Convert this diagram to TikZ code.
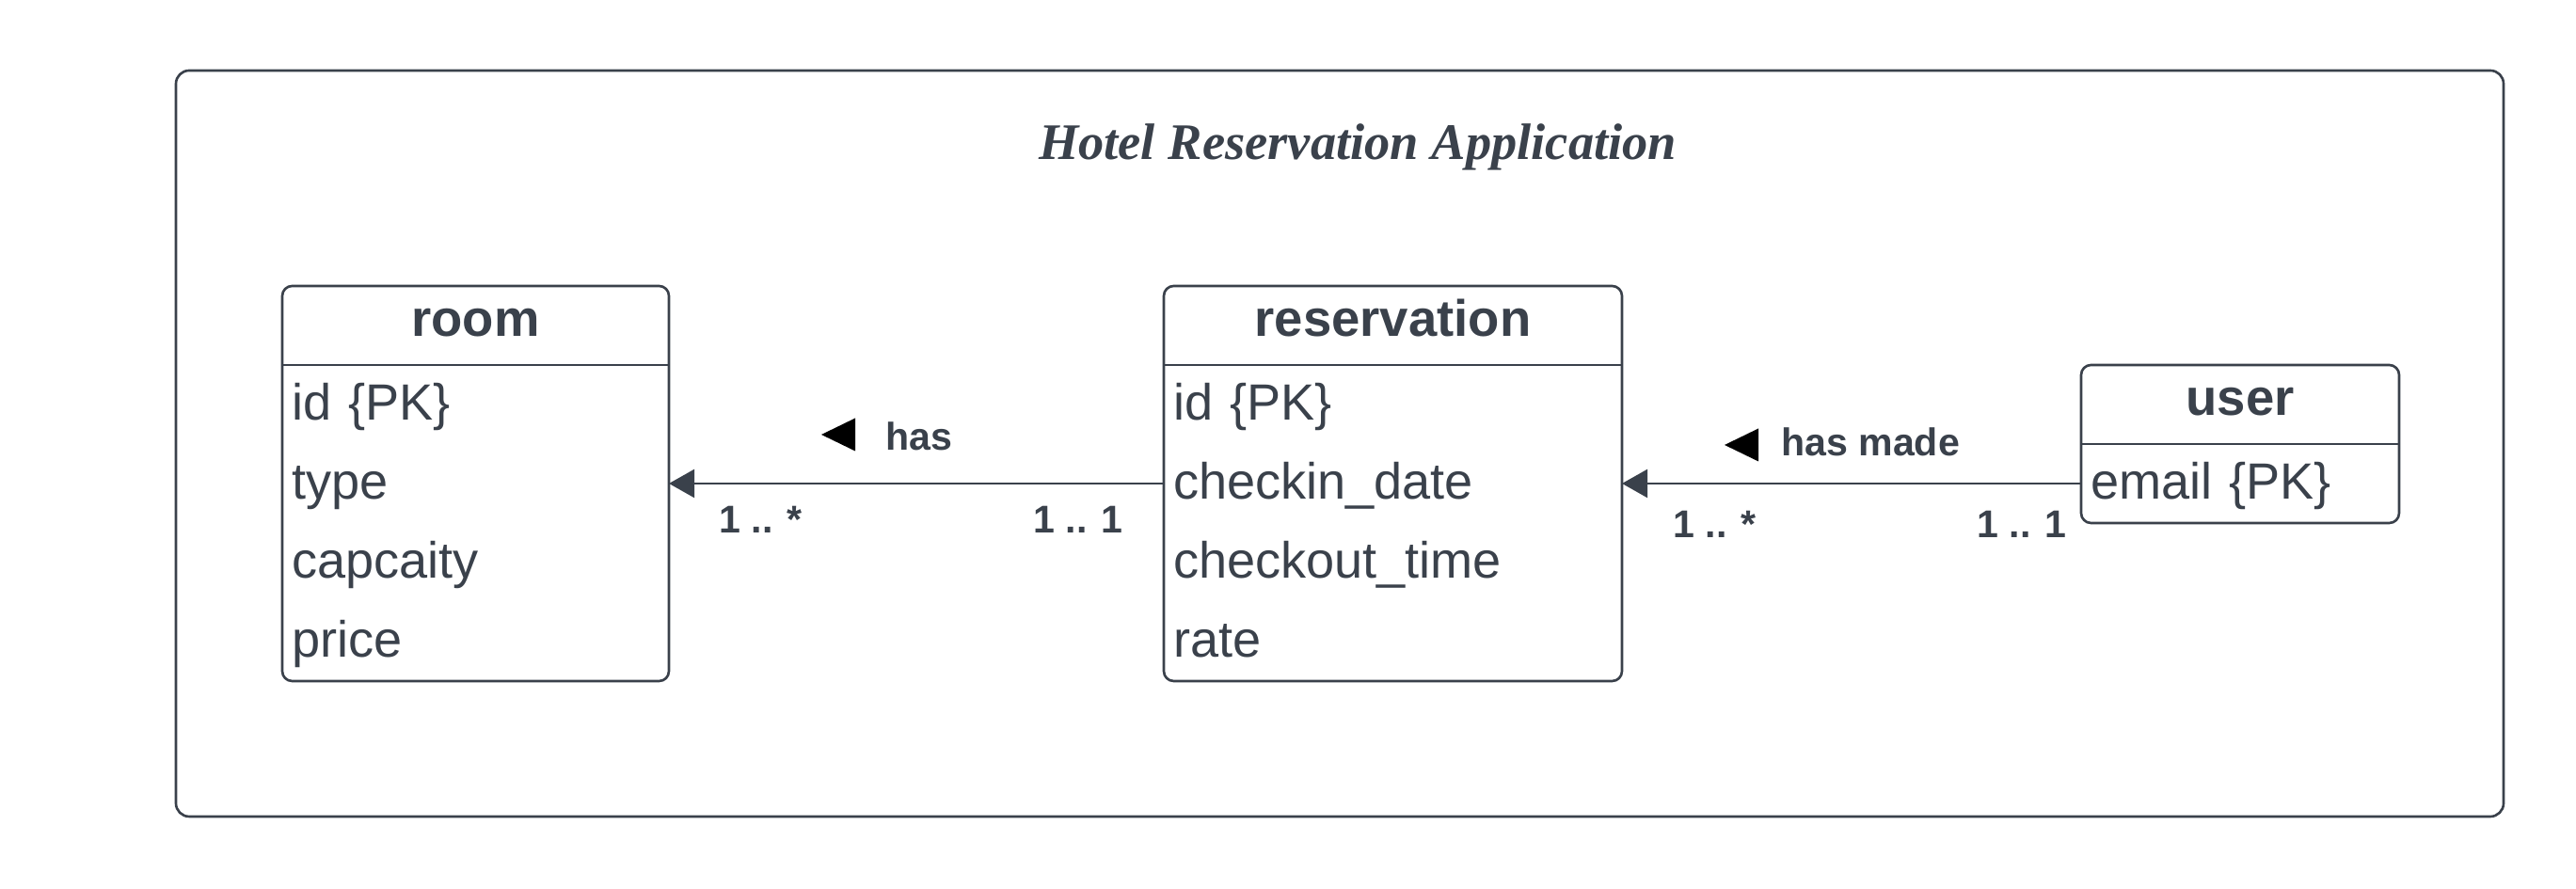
\documentclass[tikz,border=0pt]{standalone}
\usepackage{fontspec}
\setmainfont{Liberation Sans}
\newfontfamily\titlefont{Liberation Serif}
\usepackage{tikz}
\usetikzlibrary{arrows.meta, positioning}
\definecolor{ink}{HTML}{3A414B}

\begin{document}
\begin{tikzpicture}[color=ink, line width=0.75pt, node distance=0pt,
  head/.style={font=\fontsize{15.5}{18}\selectfont\bfseries, text width=#1, align=center,
    inner xsep=0.07cm, inner ysep=0pt, outer sep=0pt, minimum height=0.84cm,
    text height=0.45cm, text depth=0.21cm, anchor=north west},
  row/.style={font=\fontsize{15.4}{18}\selectfont, text width=#1, align=left,
    inner xsep=0.10cm, inner ysep=0pt, outer sep=0pt, minimum height=0.84cm,
    text height=0.50cm, text depth=0.16cm},
  mult/.style={font=\fontsize{11.7}{14}\selectfont\bfseries, anchor=base west, inner sep=0pt},
  assoc/.style={-{Triangle[length=7.7pt, width=8.5pt]}}]
   \useasboundingbox (0,0) rectangle (27.38,9.45);
   \draw[rounded corners=4pt] (1.87,8.70) rectangle (26.61,0.77);
   \node[font=\titlefont\bfseries\itshape\fontsize{15.5}{18}\selectfont, anchor=base, inner sep=0pt]
      (title) at (14.43,7.75) {Hotel Reservation Application};
   % room
   \node[head=3.97cm] (roomh) at (3.00,6.41) {room};
   \node[row=3.91cm, below=of roomh] (room1) {id \{PK\}};
   \node[row=3.91cm, below=of room1] (room2) {type};
   \node[row=3.91cm, below=of room2] (room3) {capcaity};
   \node[row=3.91cm, below=of room3] (room4) {price};
   \draw[rounded corners=3pt] (roomh.north west) rectangle (room4.south east);
   \draw (roomh.south west) -- (roomh.south east);
   % reservation
   \node[head=4.73cm] (resvh) at (12.37,6.41) {reservation};
   \node[row=4.67cm, below=of resvh] (resv1) {id \{PK\}};
   \node[row=4.67cm, below=of resv1] (resv2) {checkin\_date};
   \node[row=4.67cm, below=of resv2] (resv3) {checkout\_time};
   \node[row=4.67cm, below=of resv3] (resv4) {rate};
   \draw[rounded corners=3pt] (resvh.north west) rectangle (resv4.south east);
   \draw (resvh.south west) -- (resvh.south east);
   % user
   \node[head=3.24cm] (userh) at (22.12,5.57) {user};
   \node[row=3.18cm, below=of userh] (user1) {email \{PK\}};
   \draw[rounded corners=3pt] (userh.north west) rectangle (user1.south east);
   \draw (userh.south west) -- (userh.south east);
   % associations
   \draw[assoc] (resv2.west) -- (room2.east);
   \draw[assoc] (user1.west) -- (resv2.east);
   \fill[black] (9.09,5.005) -- (8.73,4.83) -- (9.09,4.655) -- cycle;
   \node[mult] (has) at (9.40,4.66) {has};
   \node[mult] (roommult) at (7.63,3.78) {1 .. *};
   \node[mult] (resvmult) at (10.97,3.78) {1 .. 1};
   \fill[black] (18.69,4.895) -- (18.33,4.72) -- (18.69,4.545) -- cycle;
   \node[mult] (hasmade) at (18.92,4.60) {has made};
   \node[mult] (resvmany) at (17.77,3.73) {1 .. *};
   \node[mult] (userone) at (21.00,3.73) {1 .. 1};
\end{tikzpicture}
\end{document}
